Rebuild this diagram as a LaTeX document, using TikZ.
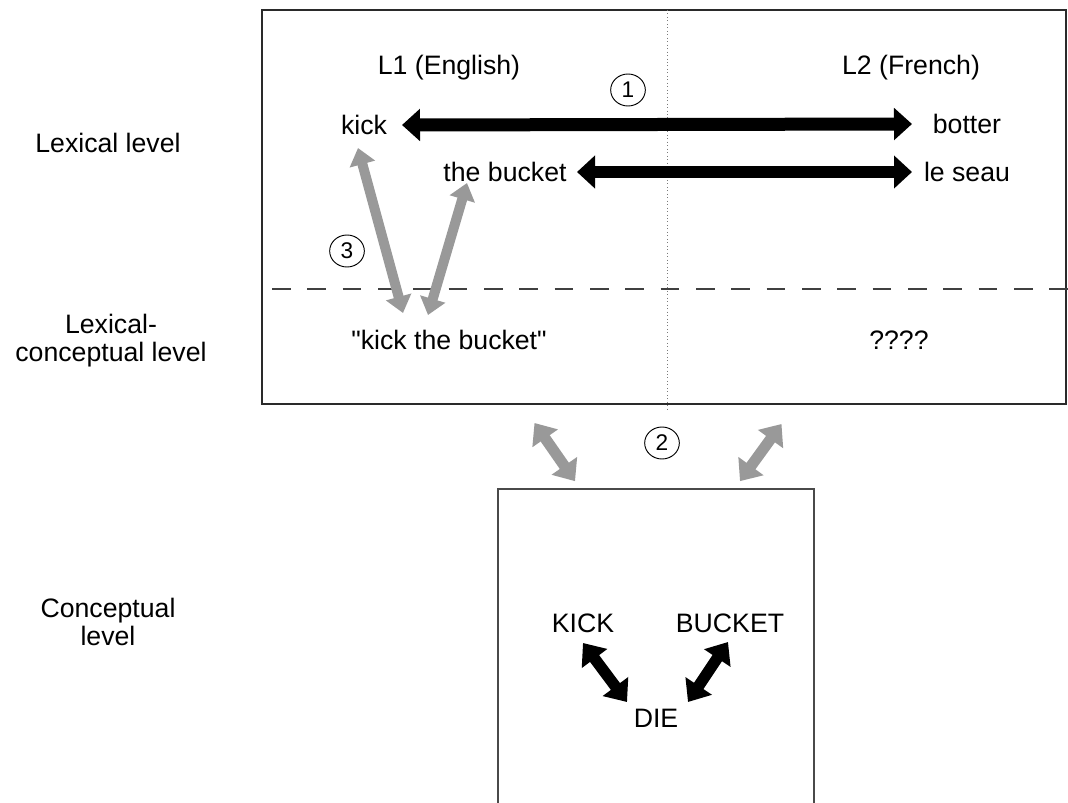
\documentclass[tikz,border=0pt]{standalone}
\usepackage{fontspec}
\setmainfont{Liberation Sans}[Ligatures=TeXOff]
\usetikzlibrary{arrows.meta,shapes.geometric}
\definecolor{gr}{HTML}{999999}
\definecolor{boxline}{HTML}{2A2A2A}
\tikzset{
  lbl/.style={inner sep=0pt,font=\fontsize{20}{21}\selectfont,align=center},
  num/.style={ellipse,draw=black,line width=0.7pt,minimum width=26pt,minimum height=24pt,inner sep=0pt,font=\fontsize{17}{18}\selectfont},
  bigblack/.style={line width=9.75pt,draw=black,{Triangle[width=23.5pt,length=13.5pt]}-{Triangle[width=23.5pt,length=13.5pt]}},
  midblack/.style={line width=8.6pt,draw=black,{Triangle[width=24pt,length=13.5pt]}-{Triangle[width=24pt,length=13.5pt]}},
  smallblack/.style={line width=8.5pt,draw=black,{Triangle[width=23pt,length=14.5pt]}-{Triangle[width=23pt,length=14.5pt]}},
  grayarr/.style={line width=7.5pt,draw=gr,{Triangle[width=19pt,length=12.5pt]}-{Triangle[width=19pt,length=12.5pt]}},
  grayarrb/.style={line width=8.25pt,draw=gr,{Triangle[width=22.5pt,length=14pt]}-{Triangle[width=22.5pt,length=14pt]}},
  box/.style={draw=boxline,line width=1.5pt,inner sep=0pt}
}
\begin{document}
\begin{tikzpicture}[x=0.75pt,y=-0.75pt]
\useasboundingbox (0,0) rectangle (1068,803);
% boxes
\node[box,minimum width=603pt,minimum height=295.5pt] (topbox) at (664,207) {};
\node[box,draw=boxline!85,minimum width=237pt,minimum height=248pt] (botbox) at (656,654.5) {};
% dividers
\draw[gr!80!black,line width=0.6pt,dotted] (667,10) -- (667,409);
\draw[black!75,line width=1.5pt,dash pattern=on 14pt off 12.5pt] (272,289) -- (1068,289);
% level labels
\node[lbl] (lex) at (108,143) {Lexical level};
\node[lbl] (lexcon) at (111,341) {Lexical-\\conceptual level};
\node[lbl] (conc) at (108,622) {Conceptual\\level};
% words
\node[lbl] (L1) at (449,68) {L1 (English)};
\node[lbl] (L2) at (911,68) {L2 (French)};
\node[lbl] (kick) at (364,125) {kick};
\node[lbl] (botter) at (967,124) {botter};
\node[lbl] (bucket) at (505,172) {the bucket};
\node[lbl] (seau) at (967,172) {le seau};
\node[lbl] (kth) at (449,340) {"kick the bucket"};
\node[lbl] (qq) at (899,340) {????};
\node[lbl] (KICK) at (583,623) {KICK};
\node[lbl] (BUCKET) at (730,623) {BUCKET};
\node[lbl] (DIE) at (656,718) {DIE};
% numbers
\node[num] (n1) at (628,90) {1};
\node[num] (n3) at (347,251) {3};
\node[num] (n2) at (662,443) {2};
% black translation arrows
\draw[bigblack] ([shift={(38,0)}]kick.center) -- ([shift={(-55,0)}]botter.center);
\draw[midblack] ([shift={(72,0)}]bucket.center) -- ([shift={(-55,0)}]seau.center);
% gray lexical-conceptual arrows
\draw[grayarr] ([shift={(-6,23)}]kick.center) -- ([shift={(-46,-27)}]kth.center);
\draw[grayarr] ([shift={(-38,11)}]bucket.center) -- ([shift={(-21,-25)}]kth.center);
% gray conceptual arrows
\draw[grayarrb] ([shift={(-129.5,18)}]topbox.south) -- ([shift={(-81,-7)}]botbox.north);
\draw[grayarrb] ([shift={(117.5,19)}]topbox.south) -- ([shift={(84,-7)}]botbox.north);
% conceptual arrows
\draw[smallblack] ([shift={(0,20)}]KICK.center) -- ([shift={(-29,-16)}]DIE.center);
\draw[smallblack] ([shift={(-2,19)}]BUCKET.center) -- ([shift={(32,-16)}]DIE.center);
\end{tikzpicture}
\end{document}
